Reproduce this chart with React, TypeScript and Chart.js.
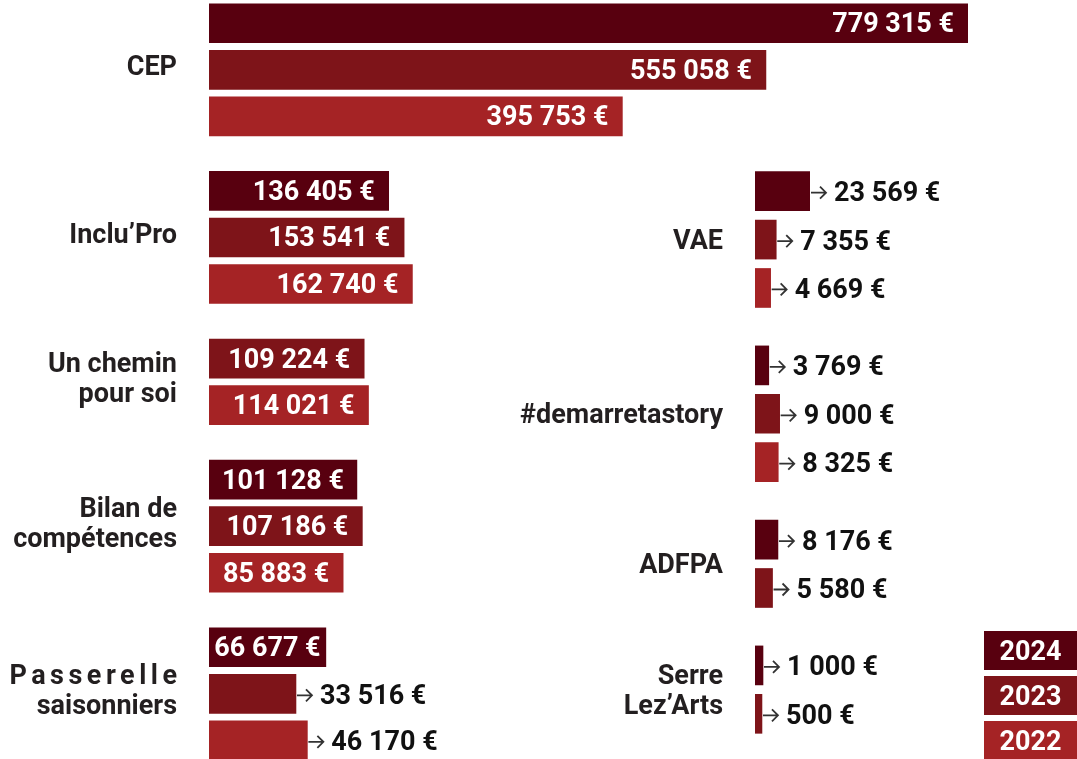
import React, { useEffect, useRef } from "react";
import { Chart, registerables } from "chart.js";

Chart.register(...registerables);

const W = 1077;
const H = 759;

const YEARS = ["2024", "2023", "2022"];
const YEAR_COLORS = ["#58000f", "#7e1419", "#a52325"];

const LEFT_CATEGORIES = [
  ["CEP"],
  ["Inclu’Pro"],
  ["Un chemin", "pour soi"],
  ["Bilan de", "compétences"],
  ["Passerelle", "saisonniers"],
];
const LEFT_2024 = [779315, 136405, null, 101128, 66677];
const LEFT_2023 = [555058, 153541, 109224, 107186, 33516];
const LEFT_2022 = [395753, 162740, 114021, 85883, 46170];

const RIGHT_CATEGORIES = [["VAE"], ["#demarretastory"], ["ADFPA"], ["Serre", "Lez’Arts"]];
const RIGHT_2024 = [23569, 3769, 8176, 1000];
const RIGHT_2023 = [7355, 9000, 5580, 500];
const RIGHT_2022 = [4669, 8325, null, null];

const GROUP_GAP = 0.6;
const BAR_THICKNESS = 39;
const FONT = "Roboto, 'DejaVu Sans', sans-serif";
const LABEL_FONT = `bold 27px ${FONT}`;
const VALUE_FONT = `bold 27px ${FONT}`;
const LABEL_COLOR = "#231f20";
const LINE_TRACKING: Record<string, number> = { Passerelle: 4.5 };

const fmt = (v: number) => String(v).replace(/\B(?=(\d{3})+(?!\d))/g, " ") + " €";

function layoutRows(series: (number | null)[][], nCats: number) {
  const points: any[][] = series.map(() => []);
  const catRows: number[][] = [];
  let pos = 0;
  let last = 0;
  for (let c = 0; c < nCats; c++) {
    const rows: number[] = [];
    series.forEach((s, k) => {
      const v = s[c];
      if (v != null) {
        points[k].push({ x: v, y: pos });
        rows.push(pos);
        last = pos;
        pos += 1;
      }
    });
    catRows.push(rows);
    pos += GROUP_GAP;
  }
  return { points, catRows, last };
}

function makePlugin(categories: string[][], catRows: number[][], labelShift: number, showLegend: boolean) {
  return {
    id: "customLabels",
    afterDatasetsDraw(chart: any) {
      const ctx = chart.ctx;
      const yScale = chart.scales.y;
      const area = chart.chartArea;
      ctx.save();
      // category labels
      ctx.font = LABEL_FONT;
      ctx.fillStyle = LABEL_COLOR;
      ctx.textAlign = "right";
      ctx.textBaseline = "alphabetic";
      const labelRight = area.left - 32;
      categories.forEach((lines, c) => {
        const rows = catRows[c];
        if (!rows.length) return;
        const cy = rows.reduce((a, r) => a + yScale.getPixelForValue(r), 0) / rows.length + labelShift;
        const n = lines.length;
        lines.forEach((line, i) => {
          const by = cy + 9.6 + (i - (n - 1) / 2) * 30;
          const tr = LINE_TRACKING[line] || 0;
          (ctx as any).letterSpacing = tr + "px";
          ctx.fillText(line, labelRight + tr, by);
          (ctx as any).letterSpacing = "0px";
        });
      });
      // value labels
      ctx.font = VALUE_FONT;
      chart.data.datasets.forEach((ds: any, di: number) => {
        const meta = chart.getDatasetMeta(di);
        meta.data.forEach((el: any, i: number) => {
          const v = ds.data[i].x;
          const text = fmt(v);
          const tw = ctx.measureText(text).width;
          const w = el.x - el.base;
          const y = el.y;
          if (tw + 8 <= w) {
            const pad = Math.min(14, (w - tw) / 2);
            ctx.fillStyle = "#ffffff";
            ctx.textAlign = "right";
            ctx.fillText(text, el.x - pad, y + 9);
          } else {
            const ax = el.x;
            const ay = y + 1.5;
            ctx.strokeStyle = "#333333";
            ctx.lineWidth = 1.8;
            ctx.beginPath();
            ctx.moveTo(ax + 1, ay);
            ctx.lineTo(ax + 16, ay);
            ctx.moveTo(ax + 10, ay - 6);
            ctx.lineTo(ax + 16, ay);
            ctx.lineTo(ax + 10, ay + 6);
            ctx.stroke();
            ctx.fillStyle = "#111111";
            ctx.textAlign = "left";
            ctx.fillText(text, ax + 24, y + 10);
          }
        });
      });
      // legend
      if (showLegend) {
        const bw = 93;
        const bh = 39;
        const x0 = chart.width - bw;
        const y0 = chart.height - 128;
        chart.data.datasets.forEach((ds: any, k: number) => {
          const by = y0 + k * 45;
          ctx.fillStyle = ds.backgroundColor;
          ctx.fillRect(x0, by, bw, bh);
          ctx.fillStyle = "#ffffff";
          ctx.textAlign = "center";
          ctx.fillText(ds.label, x0 + bw / 2, by + bh / 2 + 9.6);
        });
      }
      ctx.restore();
    },
  };
}

function buildConfig(p: {
  categories: string[][];
  series: (number | null)[][];
  valueBase: number;
  padding: any;
  bottomSlack: number;
  labelShift: number;
  showLegend: boolean;
}) {
  const { points, catRows, last } = layoutRows(p.series, p.categories.length);
  const maxVal = Math.max(...(p.series.flat().filter((v) => v != null) as number[]));
  return {
    type: "bar",
    data: {
      datasets: YEARS.map((year, k) => ({
        label: year,
        data: points[k],
        backgroundColor: YEAR_COLORS[k],
        borderWidth: 0,
        grouped: false,
        barThickness: BAR_THICKNESS,
        base: p.valueBase,
      })),
    },
    options: {
      indexAxis: "y",
      responsive: false,
      animation: false,
      layout: { padding: p.padding },
      scales: {
        x: { type: "linear", min: p.valueBase, max: maxVal, display: false, offset: false, grace: 0 },
        y: {
          type: "linear",
          reverse: true,
          min: -0.5,
          max: last + p.bottomSlack,
          display: false,
          offset: false,
          grace: 0,
        },
      },
      plugins: { legend: { display: false }, tooltip: { enabled: false } },
    },
    plugins: [makePlugin(p.categories, catRows, p.labelShift, p.showLegend)],
  } as any;
}

export default function App() {
  const leftRef = useRef<HTMLCanvasElement>(null);
  const rightRef = useRef<HTMLCanvasElement>(null);

  useEffect(() => {
    const left = new Chart(
      leftRef.current!,
      buildConfig({
        categories: LEFT_CATEGORIES,
        series: [LEFT_2024, LEFT_2023, LEFT_2022],
        valueBase: -63000,
        padding: { left: 209, right: 109, top: 0, bottom: 0 },
        bottomSlack: 0.4,
        labelShift: -4,
        showLegend: false,
      })
    );
    const right = new Chart(
      rightRef.current!,
      buildConfig({
        categories: RIGHT_CATEGORIES,
        series: [RIGHT_2024, RIGHT_2023, RIGHT_2022],
        valueBase: -2841,
        padding: { left: 755, right: 267, top: 167, bottom: 21 },
        bottomSlack: 0.5,
        labelShift: 0,
        showLegend: true,
      })
    );
    return () => {
      left.destroy();
      right.destroy();
    };
  }, []);

  return (
    <div style={{ position: "absolute", left: 0, top: 0, width: W, height: H, background: "#ffffff" }}>
      <canvas ref={leftRef} width={W} height={H} style={{ position: "absolute", left: 0, top: 0 }} />
      <canvas ref={rightRef} width={W} height={H} style={{ position: "absolute", left: 0, top: 0 }} />
    </div>
  );
}
